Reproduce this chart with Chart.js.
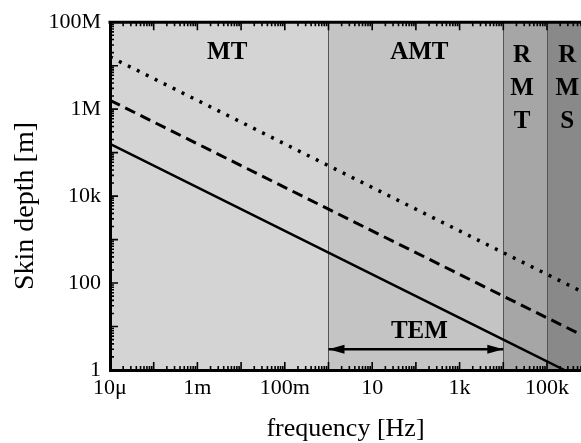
<!DOCTYPE html>
<html>
<head>
<meta charset="utf-8">
<script src="https://cdn.jsdelivr.net/npm/chart.js@4.4.1/dist/chart.umd.min.js"></script>
<style>
html, body { margin: 0; padding: 0; background: #fff; }
</style>
</head>
<body>
<canvas id="grafico" width="581" height="443"></canvas>
<script>
// axes: frequency [Hz] and skin depth [m]
const xTickValues = [1e-5, 1e-3, 0.1, 10, 1e3, 1e5];
const xTickLabels = ['10μ', '1m', '100m', '10', '1k', '100k'];
const yTickValues = [1, 100, 1e4, 1e6, 1e8];
const yTickLabels = ['1', '100', '10k', '1M', '100M'];
const yTitle = 'Skin depth [m]';

// method bands along the frequency axis
const bandNames = ['MT', 'AMT', 'RMT', 'RMS'];
const bandFrom = [1e-5, 1, 1e4, 1e5];
const bandTo = [1, 1e4, 1e5, 6e5];

// skin depth lines
const solidFreq = [1e-5, 1, 1e4, 2.5e5];
const solidDepth = [1.6e5, 500, 5, 1];
const dashFreq = [1e-5, 1, 1e4, 6e5];
const dashDepth = [1.6e6, 5000, 50, 6.5];
const dotFreq = [1e-5, 1, 1e4, 6e5];
const dotDepth = [1.6e7, 5e4, 500, 65];

// TEM range arrow
const temFreq = [1, 1e4];
const temDepth = [3, 3];

// text labels inside the plot
const labelText = [['MT'], ['AMT'], ['R', 'M', 'T'], ['R', 'M', 'S'], ['TEM']];
const labelFreq = [4.8e-3, 120, 2.7e4, 2.9e5, 120];
const labelDepth = [2e7, 2e7, 1.7e7, 1.7e7, 7.8];

const bandColors = ['#d4d4d4', '#c4c4c4', '#a6a6a6', '#898989'];
const serif = '"Liberation Serif", "Times New Roman", serif';

const pts = (fs, ds) => fs.map((f, i) => ({ x: f, y: ds[i] }));

const fondo = {
  id: 'fondo',
  beforeDraw(chart) {
    const { ctx, chartArea: a, scales: { x } } = chart;
    ctx.save();
    bandNames.forEach((n, i) => {
      const x0 = x.getPixelForValue(bandFrom[i]);
      const x1 = Math.min(x.getPixelForValue(bandTo[i]), a.right);
      ctx.fillStyle = bandColors[i];
      ctx.fillRect(x0, a.top, x1 - x0 + 1, a.bottom - a.top);
    });
    // y axis title, set a bit below the middle like the original
    ctx.fillStyle = '#000';
    ctx.font = '28px ' + serif;
    ctx.textAlign = 'center';
    ctx.textBaseline = 'alphabetic';
    ctx.translate(33, 206);
    ctx.rotate(-Math.PI / 2);
    ctx.fillText(yTitle, 0, 0);
    ctx.restore();
  },
  beforeDatasetsDraw(chart) {
    const { ctx, chartArea: a, scales: { x } } = chart;
    ctx.save();
    ctx.strokeStyle = '#555';
    ctx.lineWidth = 1;
    for (let i = 1; i < bandFrom.length; i++) {
      const px = Math.round(x.getPixelForValue(bandFrom[i])) + 0.5;
      ctx.beginPath();
      ctx.moveTo(px, a.top);
      ctx.lineTo(px, a.bottom);
      ctx.stroke();
    }
    ctx.restore();
  },
  afterDatasetsDraw(chart) {
    const { ctx, chartArea: a, scales: { x, y } } = chart;
    ctx.save();
    // arrow heads
    ctx.fillStyle = '#000';
    const ay = y.getPixelForValue(temDepth[0]);
    const ax0 = x.getPixelForValue(temFreq[0]);
    const ax1 = x.getPixelForValue(temFreq[1]);
    [[ax0, 1], [ax1, -1]].forEach(([tx, dir]) => {
      ctx.beginPath();
      ctx.moveTo(tx, ay);
      ctx.lineTo(tx + dir * 16, ay - 4.5);
      ctx.lineTo(tx + dir * 16, ay + 4.5);
      ctx.closePath();
      ctx.fill();
    });
    // labels
    ctx.font = 'bold 25px ' + serif;
    ctx.textAlign = 'center';
    ctx.textBaseline = 'middle';
    labelText.forEach((lines, i) => {
      const lx = x.getPixelForValue(labelFreq[i]);
      const ly = y.getPixelForValue(labelDepth[i]);
      lines.forEach((t, j) => ctx.fillText(t, lx, ly + j * 33));
    });
    // top border
    ctx.strokeStyle = '#000';
    ctx.lineWidth = 3;
    ctx.beginPath();
    ctx.moveTo(a.left - 1.5, a.top);
    ctx.lineTo(a.right, a.top);
    ctx.stroke();
    // inward ticks
    ctx.lineWidth = 1.6;
    ctx.beginPath();
    for (let d = -5; d <= 5; d++) {
      for (let m = 1; m <= 9; m++) {
        const v = m * Math.pow(10, d);
        if (v > x.max) continue;
        const px = x.getPixelForValue(v);
        const len = m === 1 ? 8 : 4;
        ctx.moveTo(px, a.bottom); ctx.lineTo(px, a.bottom - len);
        ctx.moveTo(px, a.top); ctx.lineTo(px, a.top + len);
      }
    }
    for (let d = 0; d <= 8; d++) {
      for (let m = 1; m <= 9; m++) {
        const v = m * Math.pow(10, d);
        if (v > y.max) continue;
        const py = y.getPixelForValue(v);
        const len = m === 1 ? 8 : 4;
        ctx.moveTo(a.left, py); ctx.lineTo(a.left + len, py);
      }
    }
    ctx.stroke();
    ctx.restore();
  }
};

let canvas = document.getElementById('grafico').getContext('2d');
var chart = new Chart(canvas, {
  type: 'line',
  data: {
    datasets: [
      { data: pts(solidFreq, solidDepth), borderColor: '#000', borderWidth: 2.5, pointRadius: 0 },
      { data: pts(dashFreq, dashDepth), borderColor: '#000', borderWidth: 3, borderDash: [11, 6], pointRadius: 0 },
      { data: pts(dotFreq, dotDepth), borderColor: '#000', borderWidth: 3.5, borderDash: [3, 7], pointRadius: 0 },
      { data: pts(temFreq, temDepth), borderColor: '#000', borderWidth: 2.5, pointRadius: 0 }
    ]
  },
  options: {
    responsive: false,
    animation: false,
    devicePixelRatio: 1,
    layout: { padding: { top: 19, right: 0, bottom: 0, left: 0 } },
    plugins: { legend: { display: false }, tooltip: { enabled: false } },
    scales: {
      x: {
        type: 'logarithmic',
        min: 1e-5,
        max: 6e5,
        afterBuildTicks: s => { s.ticks = xTickValues.map(v => ({ value: v })); },
        afterFit: s => { s.height = 73; },
        ticks: {
          callback: (v, i) => xTickLabels[i],
          font: { family: serif, size: 22 },
          color: '#000',
          padding: 5,
          maxRotation: 0,
          autoSkip: false
        },
        grid: { display: false, drawTicks: false },
        border: { display: true, color: '#000', width: 3 },
        title: {
          display: true,
          text: 'frequency [Hz]',
          color: '#000',
          font: { family: serif, size: 26, lineHeight: 1.0 },
          padding: { top: 0, bottom: 1 }
        }
      },
      y: {
        type: 'logarithmic',
        min: 1,
        max: 1e8,
        afterBuildTicks: s => { s.ticks = yTickValues.map(v => ({ value: v })); },
        afterFit: s => { s.width = 110; },
        ticks: {
          callback: (v, i) => yTickLabels[i],
          font: { family: serif, size: 22 },
          color: '#000',
          padding: 9,
          autoSkip: false
        },
        grid: { display: false, drawTicks: false },
        border: { display: true, color: '#000', width: 3 }
      }
    }
  },
  plugins: [fondo]
});
</script>
</body>
</html>
